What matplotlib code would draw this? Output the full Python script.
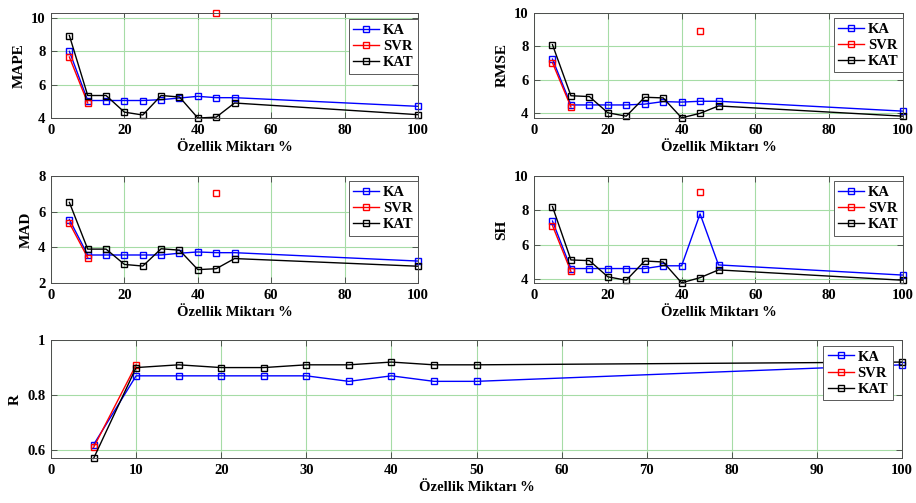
import numpy as np
import matplotlib.pyplot as plt

plt.rcParams['font.family'] = ['Liberation Serif', 'DejaVu Serif']
plt.rcParams['font.weight'] = 'bold'

nan = np.nan

# feature percentage on the x axis
oran = [5, 10, 15, 20, 25, 30, 35, 40, 45, 50, 100]

# MAPE
mape_ka = [8.0, 5.05, 5.05, 5.05, 5.05, 5.1, 5.2, 5.3, 5.22, 5.22, 4.7]
mape_svr = [7.66, 4.9, nan, nan, nan, nan, nan, nan, 10.3, nan, nan]
mape_kat = [8.95, 5.35, 5.35, 4.35, 4.18, 5.35, 5.26, 4.0, 4.05, 4.9, 4.2]

# RMSE
rmse_ka = [7.24, 4.5, 4.5, 4.5, 4.5, 4.55, 4.7, 4.67, 4.72, 4.72, 4.13]
rmse_svr = [7.02, 4.38, nan, nan, nan, nan, nan, nan, 8.92, nan, nan]
rmse_kat = [8.1, 5.05, 5.0, 4.03, 3.83, 4.96, 4.92, 3.73, 4.0, 4.44, 3.83]

# MAD
mad_ka = [5.56, 3.57, 3.57, 3.57, 3.57, 3.57, 3.67, 3.74, 3.7, 3.7, 3.23]
mad_svr = [5.36, 3.42, nan, nan, nan, nan, nan, nan, 7.05, nan, nan]
mad_kat = [6.52, 3.9, 3.9, 3.04, 2.95, 3.92, 3.84, 2.75, 2.8, 3.37, 2.94]

# SH
sh_ka = [7.38, 4.62, 4.62, 4.62, 4.62, 4.62, 4.78, 4.78, 7.8, 4.83, 4.24]
sh_svr = [7.12, 4.45, nan, nan, nan, nan, nan, nan, 9.06, nan, nan]
sh_kat = [8.22, 5.12, 5.08, 4.14, 3.94, 5.06, 5.0, 3.79, 4.09, 4.54, 3.94]

# R
r_ka = [0.62, 0.87, 0.87, 0.87, 0.87, 0.87, 0.85, 0.87, 0.85, 0.85, 0.91]
r_svr = [0.61, 0.91, nan, nan, nan, nan, nan, nan, nan, nan, nan]
r_kat = [0.57, 0.90, 0.91, 0.90, 0.90, 0.91, 0.91, 0.92, 0.91, 0.91, 0.92]

etiketler = ['KA', 'SVR', 'KAT']
renkler = ['blue', 'red', 'black']
xlabel = 'Özellik Miktarı %'


def ciz(ax, seriler, ylabel, ylim, yticks, xticks, leg_anchor):
    for y, lab, c in zip(seriler, etiketler, renkler):
        ax.plot(oran, y, color=c, lw=1.0, marker='s', ms=4.3,
                mfc='none', mec=c, mew=1.0, label=lab, clip_on=False)
    ax.set_xlim(0, 100)
    ax.set_ylim(*ylim)
    ax.set_xticks(xticks)
    ax.set_yticks(yticks)
    ax.set_yticklabels([f'{t:g}' for t in yticks])
    ax.grid(True, color='#a6dca6', lw=0.8)
    ax.set_axisbelow(True)
    ax.tick_params(direction='in', top=True, right=True, labelsize=10.5,
                   length=4, width=0.6, color='0.25', pad=4)
    for s in ax.spines.values():
        s.set_color('0.3')
        s.set_linewidth(0.7)
    ax.set_xlabel(xlabel, fontsize=10.5, fontweight='bold', labelpad=3)
    ax.set_ylabel(ylabel, fontsize=11, fontweight='bold', labelpad=4)
    leg = ax.legend(loc='upper right', bbox_to_anchor=leg_anchor,
                    fontsize=10.5, handlelength=1.8, handletextpad=0.25,
                    borderaxespad=0, borderpad=0.3, labelspacing=0.2,
                    fancybox=False, framealpha=1)
    leg.get_frame().set_edgecolor('0.35')
    leg.get_frame().set_linewidth(0.7)


fig = plt.figure(figsize=(9.16, 5.03), dpi=100)

xt = [0, 20, 40, 60, 80, 100]
ax1 = fig.add_axes([0.0557, 0.7654, 0.4007, 0.2087])
ciz(ax1, [mape_ka, mape_svr, mape_kat], 'MAPE', (4, 10.3), [4, 6, 8, 10], xt, (1.0, 0.94))

ax2 = fig.add_axes([0.583, 0.7654, 0.4028, 0.209])
ciz(ax2, [rmse_ka, rmse_svr, rmse_kat], 'RMSE', (3.72, 10), [4, 6, 8, 10], xt, (1.0, 0.95))

ax3 = fig.add_axes([0.0557, 0.4374, 0.4007, 0.2127])
ciz(ax3, [mad_ka, mad_svr, mad_kat], 'MAD', (2, 8), [2, 4, 6, 8], xt, (1.0, 0.95))

ax4 = fig.add_axes([0.583, 0.4374, 0.4028, 0.2127])
ciz(ax4, [sh_ka, sh_svr, sh_kat], 'SH', (3.78, 10), [4, 6, 8, 10], xt, (1.0, 0.95))

ax5 = fig.add_axes([0.0557, 0.0885, 0.929, 0.2355])
ciz(ax5, [r_ka, r_svr, r_kat], 'R', (0.57, 1), [0.6, 0.8, 1], list(range(0, 101, 10)), (0.989, 0.95))

fig.savefig('out.png', dpi=100)
